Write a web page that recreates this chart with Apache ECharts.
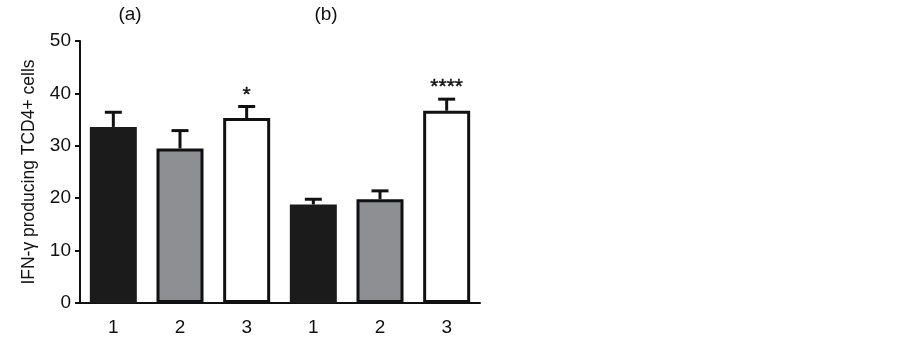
<!DOCTYPE html>
<html><head><meta charset="utf-8">
<script src="https://cdn.jsdelivr.net/npm/echarts@6/dist/echarts.min.js"></script>
<style>html,body{margin:0;padding:0;background:#fff}#c{width:902px;height:339px}</style>
</head><body><div id="c"></div>
<script>
const categories = ['1','2','3','1','2','3'];
const values = [33.6, 29.5, 35.3, 18.8, 19.8, 36.7];
const errorTops = [36.4, 32.9, 37.5, 19.8, 21.4, 38.9];
const significance = ['', '', '*', '', '', '****'];
const groupLabels = ['(a)', '(b)'];
const yTicks = [0, 10, 20, 30, 40, 50];

const fills = ['#1b1b1b', '#8e8f92', '#ffffff', '#1b1b1b', '#8e8f92', '#ffffff'];
const borders = [0, 3, 3, 0, 3, 3];

const chart = echarts.init(document.getElementById('c'), null, {renderer: 'canvas'});
const font = '"Liberation Sans", Arial, sans-serif';

chart.setOption({
  animation: false,
  grid: {left: 80, right: 422, top: 41, bottom: 36},
  xAxis: {
    type: 'category', data: categories,
    axisLine: {lineStyle: {color: '#111', width: 2}},
    axisTick: {alignWithLabel: true, length: 7, lineStyle: {color: '#111', width: 2}},
    axisLabel: {color: '#111', fontSize: 19, fontFamily: font, margin: 15}
  },
  yAxis: {
    type: 'value', min: yTicks[0], max: yTicks[yTicks.length-1], interval: 10,
    name: 'IFN-γ producing TCD4+ cells', nameLocation: 'middle', nameGap: 42,
    nameTextStyle: {color: '#111', fontSize: 17.5, fontFamily: font},
    axisLine: {show: true, lineStyle: {color: '#111', width: 2}},
    axisTick: {show: true, length: 5, lineStyle: {color: '#111', width: 2}},
    axisLabel: {color: '#111', fontSize: 19, fontFamily: font, margin: 9},
    splitLine: {show: false}
  },
  graphic: [
    {type: 'text', x: 130, y: 15, style: {text: groupLabels[0], align: 'center', verticalAlign: 'middle', fontSize: 19, fontFamily: font, fill: '#111'}},
    {type: 'text', x: 326, y: 15, style: {text: groupLabels[1], align: 'center', verticalAlign: 'middle', fontSize: 19, fontFamily: font, fill: '#111'}}
  ],
  series: [
    {
      type: 'bar', barWidth: 47,
      data: values.map((v, i) => ({
        value: v,
        itemStyle: {color: fills[i], borderColor: '#111', borderWidth: borders[i]}
      })),
      z: 2
    },
    {
      type: 'custom',
      data: values.map((v, i) => [i, v, errorTops[i]]),
      z: 3,
      renderItem: function (params, api) {
        const i = api.value(0);
        const base = api.coord([i, api.value(1)]);
        const top = api.coord([i, api.value(2)]);
        const hw = 8.5;
        const children = [
          {type: 'line', shape: {x1: base[0], y1: base[1], x2: top[0], y2: top[1]}, style: {stroke: '#111', lineWidth: 3}},
          {type: 'line', shape: {x1: top[0]-hw, y1: top[1], x2: top[0]+hw, y2: top[1]}, style: {stroke: '#111', lineWidth: 3}}
        ];
        const s = significance[params.dataIndex];
        if (s) {
          children.push({type: 'text', style: {text: s, x: top[0], y: top[1]-1, align: 'center', verticalAlign: 'bottom', fontSize: 21, fontFamily: font, fill: '#111', stroke: '#111', lineWidth: 0.4}});
        }
        return {type: 'group', children: children};
      }
    }
  ]
});
</script></body></html>
